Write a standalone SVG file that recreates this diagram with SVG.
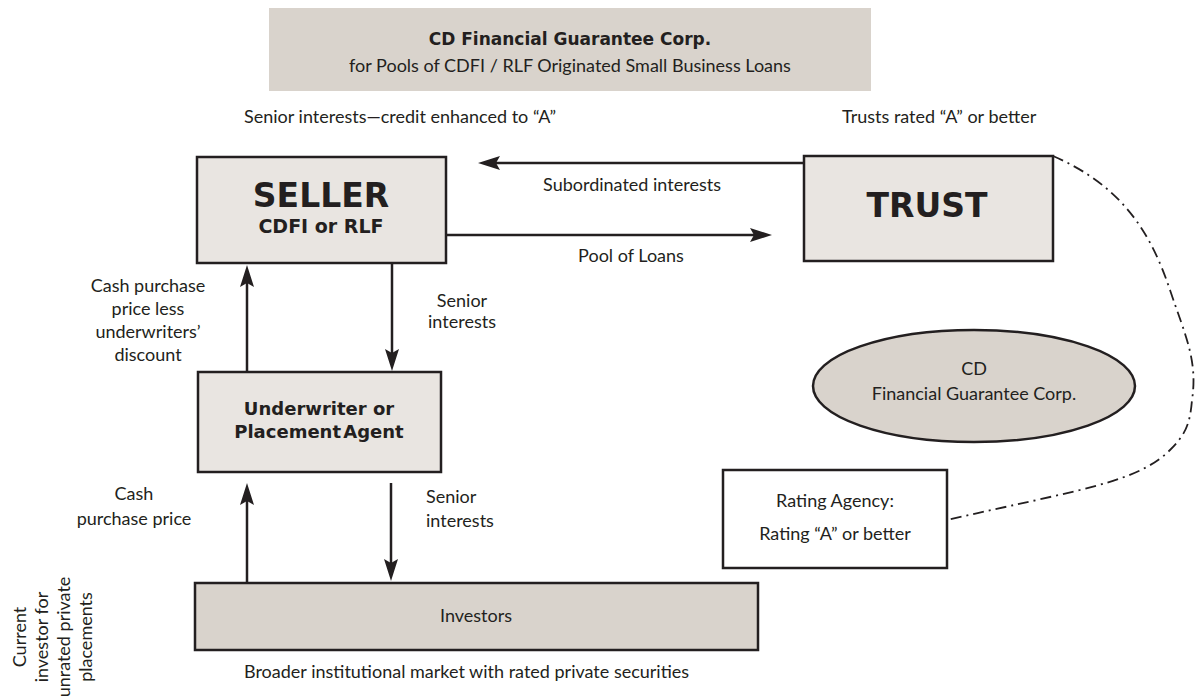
<svg xmlns="http://www.w3.org/2000/svg" width="1198" height="700" viewBox="0 0 1198 700">
<style>
text{font-family:Lato,"Open Sans","Liberation Sans",sans-serif;fill:#231f20;font-size:18px}
.b{font-family:"DejaVu Sans","Liberation Sans",sans-serif;font-weight:bold}
.c{text-anchor:middle}
.box{fill:#e9e5e1;stroke:#231f20;stroke-width:2.5}
.dark{fill:#d9d3cc;stroke:#231f20;stroke-width:2.5}
.arr{stroke:#231f20;stroke-width:2.5;fill:none;marker-end:url(#ah)}
</style>
<defs>
<marker id="ah" viewBox="0 0 22 14" refX="14" refY="7" markerWidth="22" markerHeight="14" orient="auto" markerUnits="userSpaceOnUse">
<path d="M0,0 L22,7 L0,14 L4,7 z" fill="#231f20"/>
</marker>
</defs>
<rect width="1198" height="700" fill="#fff"/>
<g id="header">
<rect x="269" y="8" width="602" height="83" fill="#d9d3cc"/>
<text class="b c" x="570" y="45" style="font-size:17px">CD Financial Guarantee Corp.</text>
<text class="c" x="570" y="72">for Pools of CDFI / RLF Originated Small Business Loans</text>
</g>
<g id="labels">
<text x="244" y="123">Senior interests—credit enhanced to “A”</text>
<text x="842" y="123">Trusts rated “A” or better</text>
<text class="c" x="632" y="191">Subordinated interests</text>
<text class="c" x="631" y="262">Pool of Loans</text>
<text class="c" x="148" y="292">Cash purchase</text>
<text class="c" x="148" y="315">price less</text>
<text class="c" x="148" y="338">underwriters’</text>
<text class="c" x="148" y="361">discount</text>
<text class="c" x="462" y="307">Senior</text>
<text class="c" x="462" y="328">interests</text>
<text class="c" x="134" y="500">Cash</text>
<text class="c" x="134" y="525">purchase price</text>
<text x="426" y="503">Senior</text>
<text x="426" y="527">interests</text>
<text x="244" y="678">Broader institutional market with rated private securities</text>
<g transform="translate(0,637) rotate(-90)">
<text class="c" x="0" y="26">Current</text>
<text class="c" x="0" y="48">investor for</text>
<text class="c" x="0" y="70">unrated private</text>
<text class="c" x="0" y="92">placements</text>
</g>
</g>
<g id="seller">
<rect class="box" x="197" y="157" width="249" height="106"/>
<text class="b c" x="321" y="207" style="font-size:33px">SELLER</text>
<text class="b c" x="321" y="233" style="font-size:19px">CDFI or RLF</text>
</g>
<g id="trust">
<rect class="box" x="804" y="156" width="249" height="105"/>
<text class="b c" x="927" y="217" style="font-size:33px">TRUST</text>
</g>
<g id="underwriter">
<rect class="box" x="198" y="372" width="243" height="100"/>
<text class="b c" x="319" y="415" style="font-size:18px">Underwriter or</text>
<text class="b c" x="319" y="438" style="font-size:18px;word-spacing:-4px">Placement Agent</text>
</g>
<g id="guarantee">
<ellipse cx="974" cy="386" rx="161" ry="56" fill="#d9d3cc" stroke="#231f20" stroke-width="2.5"/>
<text class="c" x="974" y="375">CD</text>
<text class="c" x="974" y="400">Financial Guarantee Corp.</text>
</g>
<g id="rating">
<rect x="723" y="470" width="224" height="98" fill="#fff" stroke="#231f20" stroke-width="2.5"/>
<text class="c" x="835" y="507">Rating Agency:</text>
<text class="c" x="835" y="540">Rating “A” or better</text>
</g>
<g id="investors">
<rect class="dark" x="195" y="583" width="563" height="67"/>
<text class="c" x="476" y="622">Investors</text>
</g>
<g id="connectors">
<line class="arr" x1="804" y1="163" x2="486" y2="163"/>
<line class="arr" x1="446" y1="235" x2="764" y2="235"/>
<line class="arr" x1="247" y1="372" x2="247" y2="273"/>
<line class="arr" x1="392" y1="263" x2="392" y2="363"/>
<line class="arr" x1="247" y1="583" x2="247" y2="491"/>
<line class="arr" x1="391" y1="483" x2="391" y2="573"/>
<path d="M1053,156 C1120,185 1150,230 1170,290 C1185,335 1198,360 1192,400 C1190,425 1185,435 1170,450 C1150,470 1120,480 1080,490 C1030,502 990,510 947,520" fill="none" stroke="#231f20" stroke-width="1.8" stroke-dasharray="11 5 2 5"/>
</g>
</svg>
